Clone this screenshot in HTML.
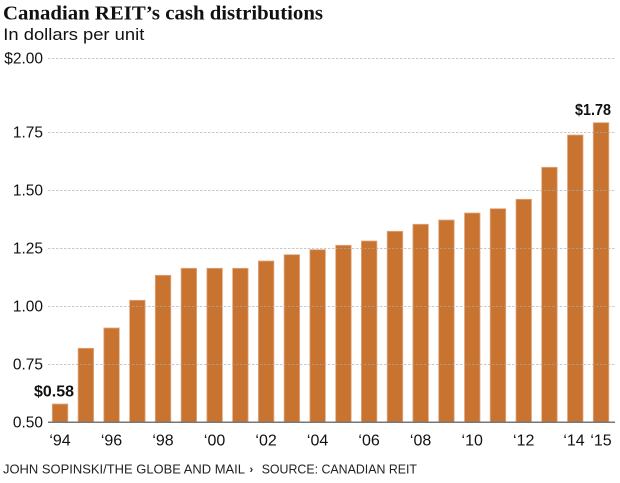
<!DOCTYPE html>
<html>
<head>
<meta charset="utf-8">
<style>
  html,body{margin:0;padding:0;background:#fff;}
  svg{display:block;}
</style>
</head>
<body>
<svg width="620" height="483" viewBox="0 0 620 483" xmlns="http://www.w3.org/2000/svg">
  <rect width="620" height="483" fill="#fff"/>
  <!-- Title -->
  <text x="3" y="19.5" font-family="Liberation Serif, serif" font-weight="bold" font-size="20" fill="#111" textLength="320" lengthAdjust="spacingAndGlyphs">Canadian REIT’s cash distributions</text>
  <text x="3.3" y="40" font-family="Liberation Sans, sans-serif" font-size="17" fill="#111" textLength="141" lengthAdjust="spacingAndGlyphs">In dollars per unit</text>

  <!-- Bars -->
  <g fill="#c87330" stroke="#e2a981" stroke-width="0.8">
    <rect x="52.3" y="404" width="15.5" height="18"/>
    <rect x="78.1" y="348.3" width="15.5" height="73.7"/>
    <rect x="103.8" y="328" width="15.5" height="94"/>
    <rect x="129.6" y="300.3" width="15.5" height="121.7"/>
    <rect x="155.3" y="275.3" width="15.5" height="146.7"/>
    <rect x="181.1" y="268.3" width="15.5" height="153.7"/>
    <rect x="206.9" y="268.3" width="15.5" height="153.7"/>
    <rect x="232.6" y="268.3" width="15.5" height="153.7"/>
    <rect x="258.4" y="261" width="15.5" height="161"/>
    <rect x="284.1" y="254.7" width="15.5" height="167.3"/>
    <rect x="309.9" y="249.7" width="15.5" height="172.3"/>
    <rect x="335.7" y="245.3" width="15.5" height="176.7"/>
    <rect x="361.4" y="241" width="15.5" height="181"/>
    <rect x="387.2" y="231.3" width="15.5" height="190.7"/>
    <rect x="412.9" y="224.3" width="15.5" height="197.7"/>
    <rect x="438.7" y="220" width="15.5" height="202"/>
    <rect x="464.5" y="213" width="15.5" height="209"/>
    <rect x="490.2" y="208.7" width="15.5" height="213.3"/>
    <rect x="516" y="199.3" width="15.5" height="222.7"/>
    <rect x="541.7" y="167.3" width="15.5" height="254.7"/>
    <rect x="567.5" y="135" width="15.5" height="287"/>
    <rect x="593.3" y="122.7" width="15.5" height="299.3"/>
  </g>

  <!-- Gridlines -->
  <g stroke="#aaa" stroke-opacity="0.65" stroke-width="1" stroke-dasharray="2.5,1.5">
    <line x1="48" y1="58.5" x2="615" y2="58.5"/>
    <line x1="48" y1="132.5" x2="615" y2="132.5"/>
    <line x1="48" y1="190.5" x2="615" y2="190.5"/>
    <line x1="48" y1="248.5" x2="615" y2="248.5"/>
    <line x1="48" y1="306.5" x2="615" y2="306.5"/>
    <line x1="48" y1="364.5" x2="615" y2="364.5"/>
  </g>
  <line x1="48" y1="422.3" x2="615" y2="422.3" stroke="#777" stroke-width="1.5"/>

  <!-- Y labels -->
  <g font-family="Liberation Sans, sans-serif" font-size="15.5" fill="#111" text-anchor="end">
    <text x="43" y="63.5">$2.00</text>
    <text x="43" y="137.5">1.75</text>
    <text x="43" y="195.5">1.50</text>
    <text x="43" y="253.5">1.25</text>
    <text x="43" y="311.5">1.00</text>
    <text x="43" y="369.5">0.75</text>
    <text x="43" y="427.3">0.50</text>
  </g>

  <!-- X labels -->
  <g font-family="Liberation Sans, sans-serif" font-size="16" fill="#111" text-anchor="middle">
    <text x="60" y="445.5">‘94</text>
    <text x="111.5" y="445.5">‘96</text>
    <text x="163" y="445.5">‘98</text>
    <text x="214.6" y="445.5">‘00</text>
    <text x="266.1" y="445.5">‘02</text>
    <text x="317.6" y="445.5">‘04</text>
    <text x="369.1" y="445.5">‘06</text>
    <text x="420.6" y="445.5">‘08</text>
    <text x="472.2" y="445.5">‘10</text>
    <text x="523.7" y="445.5">‘12</text>
    <text x="574" y="445.5">‘14</text>
    <text x="601" y="445.5">‘15</text>
  </g>

  <!-- Value labels -->
  <text x="34" y="396.7" font-family="Liberation Sans, sans-serif" font-weight="bold" font-size="16" fill="#111" textLength="40" lengthAdjust="spacingAndGlyphs">$0.58</text>
  <text x="575" y="115" font-family="Liberation Sans, sans-serif" font-weight="bold" font-size="16" fill="#111" textLength="36" lengthAdjust="spacingAndGlyphs">$1.78</text>

  <!-- Footer -->
  <g font-family="Liberation Sans, sans-serif" font-size="12.5" fill="#222">
    <text x="3" y="473.3" textLength="242" lengthAdjust="spacingAndGlyphs">JOHN SOPINSKI/THE GLOBE AND MAIL</text>
    <text x="249.5" y="472.8" font-size="11" font-weight="bold">›</text>
    <text x="261.7" y="473.3" textLength="155.3" lengthAdjust="spacingAndGlyphs">SOURCE: CANADIAN REIT</text>
  </g>
</svg>
</body>
</html>
